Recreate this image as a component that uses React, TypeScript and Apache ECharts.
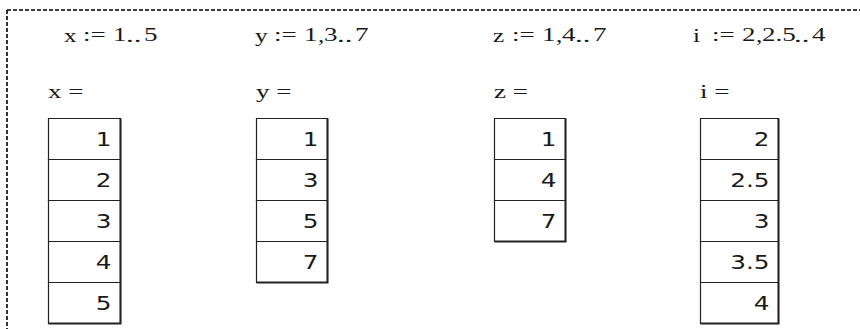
import React, { useEffect, useRef } from "react";
import * as echarts from "echarts";

// ---- data ----
const names = ["x", "y", "z", "i"];
const ranges = ["1..5", "1,3..7", "1,4..7", "2,2.5..4"];
const xValues = [1, 2, 3, 4, 5];
const yValues = [1, 3, 5, 7];
const zValues = [1, 4, 7];
const iValues = [2, 2.5, 3, 3.5, 4];
const columns = [xValues, yValues, zValues, iValues];

// ---- layout ----
const FORMULA_X = [64, 255, 493, 693];
const TABLE_LEFT = [48, 256, 494, 700];
const TABLE_W = [72, 71, 71, 78];
const TABLE_TOP = 118;
const ROW_H = 41;
const FORMULA_Y = 35.5;
const LABEL_Y = 92.5;
const SERIF = "'Liberation Serif', 'Times New Roman', serif";
const SANS = "'DejaVu Sans', Verdana, sans-serif";
const INK = "#1a1a1a";

function tokenize(s: string): string[] {
  const out: string[] = [];
  let i = 0;
  while (i < s.length) {
    if (s.startsWith("..", i)) {
      out.push("..");
      i += 2;
    } else if (s[i] === ",") {
      out.push(",");
      i += 1;
    } else {
      let j = i;
      while (j < s.length && !s.startsWith("..", j) && s[j] !== ",") j++;
      out.push(s.slice(i, j));
      i = j;
    }
  }
  return out;
}

function serifText(text: string, x: number, y: number, sx: number): any {
  return {
    type: "text",
    x,
    y,
    scaleX: sx,
    silent: true,
    style: {
      text,
      fontFamily: SERIF,
      fontSize: 18,
      fill: INK,
      align: "left",
      verticalAlign: "middle",
    },
  };
}

function buildGraphics(): any[] {
  const els: any[] = [];
  // dashed frame (top and left visible)
  els.push({
    type: "line",
    silent: true,
    shape: { x1: 7, y1: 10, x2: 860, y2: 10 },
    style: { stroke: "#000", lineWidth: 1.6, lineDash: [4, 2] },
  });
  els.push({
    type: "line",
    silent: true,
    shape: { x1: 7, y1: 10, x2: 7, y2: 329 },
    style: { stroke: "#000", lineWidth: 1.6, lineDash: [4, 2] },
  });

  names.forEach((name, c) => {
    // formula line: name := range
    let px = FORMULA_X[c];
    els.push(serifText(name, px, FORMULA_Y, 1.4));
    px += 19;
    els.push(serifText(":=", px, FORMULA_Y, 1.5));
    px += 30;
    tokenize(ranges[c]).forEach((tok) => {
      if (tok === "..") {
        els.push(serifText("..", px - 1, FORMULA_Y, 1.7));
        px += 17;
      } else if (tok === ",") {
        els.push(serifText(",", px, FORMULA_Y, 1.4));
        px += 6;
      } else {
        els.push(serifText(tok, px, FORMULA_Y, 1.5));
        for (const ch of tok) px += ch === "." ? 5 : 14;
      }
    });

    // label "name ="
    els.push(serifText(name + " =", TABLE_LEFT[c], LABEL_Y, 1.5));

    // table
    const left = TABLE_LEFT[c] + 0.5;
    const w = TABLE_W[c];
    const vals = columns[c];
    vals.forEach((v, r) => {
      const top = TABLE_TOP + 0.5 + r * ROW_H;
      els.push({
        type: "rect",
        silent: true,
        shape: { x: left, y: top, width: w, height: ROW_H },
        style: { fill: "#fff", stroke: "#222", lineWidth: 1.2 },
      });
      els.push({
        type: "text",
        silent: true,
        x: left + w - 9,
        y: top + ROW_H / 2 + 1,
        scaleX: 1.3,
        style: {
          text: String(v),
          fontFamily: SANS,
          fontSize: 19,
          fill: INK,
          align: "right",
          verticalAlign: "middle",
        },
      });
    });
    const bottom = TABLE_TOP + 0.5 + vals.length * ROW_H;
    // heavier right & bottom edge
    els.push({
      type: "polyline",
      silent: true,
      shape: {
        points: [
          [left + w, TABLE_TOP + 0.5],
          [left + w, bottom],
          [left, bottom],
        ],
      },
      style: { stroke: "#222", lineWidth: 2, fill: "none" },
    });
  });
  return els;
}

export default function App() {
  const ref = useRef<HTMLDivElement>(null);
  useEffect(() => {
    if (!ref.current) return;
    const chart = echarts.init(ref.current, undefined, { renderer: "svg" });
    chart.setOption({
      animation: false,
      backgroundColor: "#ffffff",
      graphic: { elements: buildGraphics() },
    });
    return () => chart.dispose();
  }, []);
  return (
    <div
      ref={ref}
      style={{ position: "absolute", left: 0, top: 0, width: 860, height: 329 }}
    />
  );
}
